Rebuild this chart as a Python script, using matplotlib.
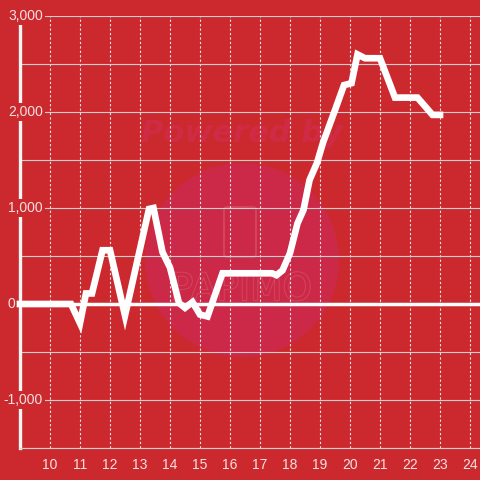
import matplotlib
matplotlib.use("Agg")
import matplotlib.pyplot as plt
from matplotlib import patches, transforms
from matplotlib import patheffects as pe

plt.rcParams['font.family'] = ['Liberation Sans', 'DejaVu Sans']

# hour of day vs. balance
hours = [9, 10.7, 11.0, 11.2, 11.4, 11.75, 12.0, 12.5, 13.3, 13.45, 13.75, 14.0,
         14.3, 14.5, 14.75, 15.0, 15.25, 15.75, 17.4, 17.55, 17.75, 18.0, 18.25,
         18.45, 18.65, 18.9, 19.1, 19.5, 19.8, 20.05, 20.25, 20.5, 21.0, 21.5,
         22.25, 22.75, 23.0]
values = [0, 0, -200, 110, 110, 560, 560, -120, 990, 1000, 540, 380,
          10, -40, 20, -110, -130, 320, 320, 300, 350, 530, 840,
          980, 1290, 1470, 1680, 2020, 2280, 2300, 2600, 2560, 2560, 2150,
          2150, 1970, 1970]

x_ticks = list(range(10, 25))
x_labels = [str(h) for h in x_ticks]
y_ticks = [-1000, 0, 1000, 2000, 3000]
y_labels = ["-1,000", "0", "1,000", "2,000", "3,000"]
y_grid = list(range(-1500, 3001, 500))

bg = '#cc292e'
txt = '#f3e1e1'
grid_c = '#cfcfcf'

fig = plt.figure(figsize=(4.8, 4.8), dpi=100, facecolor=bg)
ax = fig.add_axes([20/480, 32/480, 460/480, 432/480], facecolor=bg)
ax.set_xlim(9, 9 + 460/30)
ax.set_ylim(-1500, 3000)

# watermark (under the grid)
ft = fig.transFigure
ax.add_patch(patches.Circle((242/480, 1 - 260/480), 97/480, transform=ft,
                            facecolor='#cc2848', edgecolor='none', zorder=0.1, clip_on=False))
ax.add_patch(patches.FancyBboxPatch((224/480, 1 - 257/480), 32/480, 50/480,
                                    boxstyle='round,pad=0,rounding_size=0.006',
                                    transform=ft, facecolor='none', edgecolor='#d4485e',
                                    lw=1.3, zorder=0.2, clip_on=False))
ax.text(242/480, 1 - 133/480, "Powered by", transform=ft, color='#cf2b44', fontsize=22,
        fontweight='bold', style='italic', ha='center', va='center',
        family='DejaVu Sans', zorder=0.2)
ax.text(241/480, 1 - 290/480, "PAPIMO", transform=ft, color='#cc2848', fontsize=27,
        ha='center', va='center', zorder=0.2, family='DejaVu Sans',
        path_effects=[pe.Stroke(linewidth=1.3, foreground='#d4485e'), pe.Normal()])

ax.set_axisbelow(True)
ax.set_yticks(y_grid)
ax.set_yticklabels([])
ax.set_xticks(x_ticks)
ax.set_xticklabels(x_labels, color=txt, fontsize=10)
ax.tick_params(length=0)
ax.tick_params(axis='x', pad=7)
ax.grid(axis='y', color=grid_c, lw=0.8)
ax.grid(axis='x', color='#e6e6e6', lw=0.8, linestyle=(0, (2, 2)))

for s in ['top', 'right']:
    ax.spines[s].set_visible(False)
ax.spines['bottom'].set_color(grid_c)
ax.spines['bottom'].set_linewidth(0.8)
ax.spines['left'].set_color('#f5f5f5')
ax.spines['left'].set_linewidth(2.4)

ax.axhline(0, color='white', lw=2.5, zorder=2)

trans = transforms.blended_transform_factory(ax.transAxes, ax.transData)
for v, lab in zip(y_ticks, y_labels):
    if v == 0:
        xpos = -4.5/460
    else:
        xpos = 23/460
    ax.text(xpos, v, lab, transform=trans, ha='right', va='center', color=txt,
            fontsize=10, zorder=3.5, clip_on=False,
            bbox=dict(facecolor=bg, edgecolor='none', pad=1.5))

ax.plot(hours, values, color='white', lw=4.8, solid_capstyle='projecting',
        solid_joinstyle='miter', zorder=4, clip_on=False)

fig.savefig('out.png', dpi=100, facecolor=bg)
